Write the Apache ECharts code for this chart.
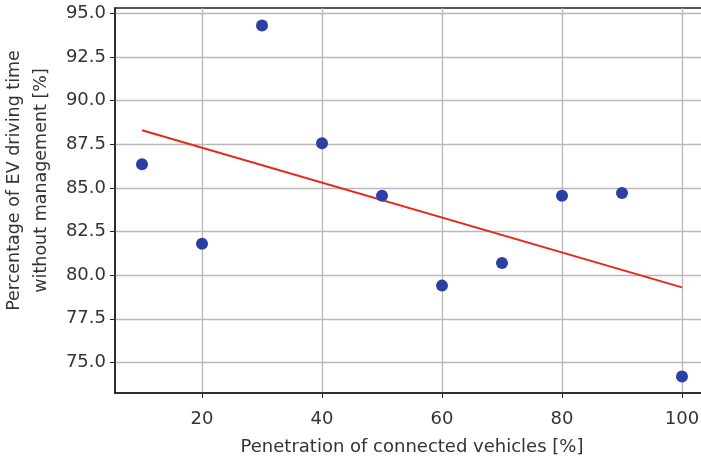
<!DOCTYPE html>
<html>
<head>
<meta charset="utf-8">
<script src="https://cdn.jsdelivr.net/npm/echarts@6/dist/echarts.min.js"></script>
<style>
  html, body { margin: 0; padding: 0; background: #fff; }
  #chart { width: 701px; height: 457px; }
</style>
</head>
<body>
<div id="chart"></div>
<script>
  // penetration of connected vehicles [%]
  const penetration = [10, 20, 30, 40, 50, 60, 70, 80, 90, 100]
  // EV driving time without management [%]
  const drivingTime = [86.35, 81.8, 94.3, 87.55, 84.55, 79.4, 80.7, 84.55, 84.7, 74.2]
  // fitted trend line, end points
  const trendX = [10, 100]
  const trendY = [88.3, 79.3]
  const xTicks = [20, 40, 60, 80, 100]
  const yTicks = [75, 77.5, 80, 82.5, 85, 87.5, 90, 92.5, 95]

  const chart = echarts.init(document.getElementById('chart'))
  const font = 'DejaVu Sans'

  const option = {
    backgroundColor: '#fff',
    animation: false,
    grid: {
      left: 115,
      right: -8,
      top: 8,
      bottom: 64,
      outerBoundsMode: 'none',
      containLabel: false,
      show: true,
      borderColor: '#222',
      borderWidth: 1.5
    },
    xAxis: {
      type: 'value',
      min: 5.5,
      max: 104.5,
      name: 'Penetration of connected vehicles [%]',
      nameLocation: 'middle',
      nameGap: 45,
      nameTextStyle: { color: '#333', fontSize: 18, fontFamily: font },
      axisLine: { lineStyle: { color: '#222', width: 1.5 } },
      axisTick: { show: true, length: 5, customValues: xTicks, lineStyle: { color: '#222' } },
      axisLabel: {
        customValues: xTicks,
        color: '#333',
        fontSize: 18,
        fontFamily: font,
        margin: 17
      },
      splitLine: { show: true, lineStyle: { color: '#b8b8b8', width: 1.3 } }
    },
    yAxis: {
      type: 'value',
      min: 73.25,
      max: 95.3,
      name: 'Percentage of EV driving time\nwithout management [%]',
      nameLocation: 'middle',
      nameGap: 58,
      // title sits a little above the middle of the plot in the original
      nameTextStyle: { color: '#333', fontSize: 17.5, fontFamily: font, lineHeight: 27, padding: [0, 0, 0, 40] },
      axisLine: { show: true, lineStyle: { color: '#222', width: 1.5 } },
      axisTick: { show: true, length: 5, customValues: yTicks, lineStyle: { color: '#222' } },
      axisLabel: {
        customValues: yTicks,
        color: '#333',
        fontSize: 18,
        fontFamily: font,
        margin: 9,
        formatter: v => v.toFixed(1)
      },
      splitLine: { show: true, lineStyle: { color: '#b8b8b8', width: 1.3 } }
    },
    series: [
      {
        type: 'line',
        data: trendX.map((x, i) => [x, trendY[i]]),
        symbol: 'none',
        lineStyle: { color: '#e8271d', width: 2 },
        z: 2
      },
      {
        type: 'scatter',
        data: penetration.map((x, i) => [x, drivingTime[i]]),
        symbolSize: 12,
        itemStyle: { color: '#2a40a4', opacity: 1 },
        z: 3
      }
    ]
  }

  chart.setOption(option)
</script>
</body>
</html>
